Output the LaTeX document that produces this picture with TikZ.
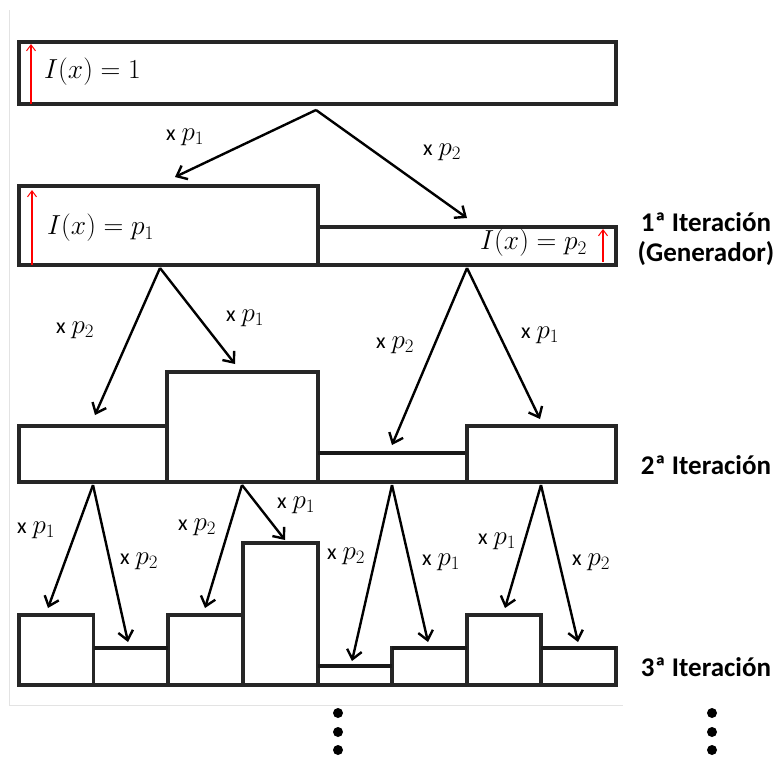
\RequirePackage{fix-cm}
\documentclass[tikz,border=0pt]{standalone}
\usepackage{fontspec}
\setmainfont{Carlito}
\usetikzlibrary{arrows.meta}
\newcommand{\factorof}[1]{{\fontsize{22}{24}\selectfont x}\hspace{6pt}$p_{#1}$}
\begin{document}
\begin{tikzpicture}[x=1pt,y=-1pt,
  bar/.style={draw=black!85,line width=3.4pt,line join=miter},
  thinbar/.style={draw=black!90,line width=4.6pt},
  flow/.style={draw=black,line width=2.4pt,-{Straight Barb[length=9pt,width=15pt,line width=2.4pt]}},
  level/.style={draw=red,line width=1.1pt,-{Straight Barb[length=6pt,width=9pt,line width=1pt]}},
  factor/.style={font=\fontsize{27}{29}\selectfont,inner sep=0pt},
  density/.style={font=\fontsize{27.5}{29}\selectfont,inner sep=0pt,anchor=west},
  stage/.style={font=\fontsize{27}{30}\selectfont\bfseries,inner sep=0pt,align=center},
  dot/.style={fill=black,circle,inner sep=0pt,minimum size=10pt}]
\useasboundingbox (0,0) rectangle (774,758);
\fill[white] (0,0) rectangle (774,758);
% faint frame of the page
\draw[gray!22,line width=1pt] (9,10) -- (9,705) -- (623,705);

% initial measure
\draw[bar] (19,42) rectangle (616,104);
\draw[level] (31,104) -- (31,44);
\node[density] (i0) at (44,72) {$I(x)=1$};

% first iteration (generator)
\draw[bar] (19,186) rectangle (318,265);
\draw[bar] (318,227) rectangle (616,265);
\draw[level] (32,265) -- (32,190);
\draw[level] (603,262) -- (603,229);
\node[density] (i1) at (47,228) {$I(x)=p_1$};
\node[density] (i2) at (480,243) {$I(x)=p_2$};

% second iteration
\draw[bar] (19,426) rectangle (167,482);
\draw[bar] (167,372) rectangle (318,482);
\draw[bar] (318,453) rectangle (467,482);
\draw[thinbar] (318,453) -- (467,453);
\draw[bar] (467,426) rectangle (616,482);

% third iteration
\draw[bar] (19,615) rectangle (93.6,685);
\draw[bar] (93.6,648) rectangle (168,685);
\draw[bar] (168,615) rectangle (243,685);
\draw[bar] (243,543) rectangle (318,685);
\draw[bar] (318,666) rectangle (392,685);
\draw[bar] (392,648) rectangle (467,685);
\draw[bar] (467,615) rectangle (541,685);
\draw[bar] (541,648) rectangle (616,685);
\draw[thinbar] (93.6,648) -- (168,648);
\draw[thinbar] (318,666) -- (392,666);
\draw[thinbar] (392,648) -- (467,648);
\draw[thinbar] (541,648) -- (616,648);
\draw[bar] (19,685) -- (616,685);

% arrow end points
\coordinate (s0) at (316,110);
\coordinate (e0a) at (175,177);
\coordinate (e0b) at (467,218);
\coordinate (s1a) at (160,268);
\coordinate (s1b) at (467,268);
\coordinate (e1a) at (95,415);
\coordinate (e1b) at (235,364);
\coordinate (e1c) at (392,445);
\coordinate (e1d) at (540,419);
\coordinate (s2a) at (93,485);
\coordinate (s2b) at (242,485);
\coordinate (s2c) at (392,485);
\coordinate (s2d) at (541,485);
\coordinate (e2a) at (48,608);
\coordinate (e2b) at (128,642);
\coordinate (e2c) at (205,608);
\coordinate (e2d) at (285,540);
\coordinate (e2e) at (352,661);
\coordinate (e2f) at (428,642);
\coordinate (e2g) at (505,608);
\coordinate (e2h) at (578,642);

\draw[flow] (s0) -- (e0a);
\draw[flow] (s0) -- (e0b);
\draw[flow] (s1a) -- (e1a);
\draw[flow] (s1a) -- (e1b);
\draw[flow] (s1b) -- (e1c);
\draw[flow] (s1b) -- (e1d);
\draw[flow] (s2a) -- (e2a);
\draw[flow] (s2a) -- (e2b);
\draw[flow] (s2b) -- (e2c);
\draw[flow] (s2b) -- (e2d);
\draw[flow] (s2c) -- (e2e);
\draw[flow] (s2c) -- (e2f);
\draw[flow] (s2d) -- (e2g);
\draw[flow] (s2d) -- (e2h);

% multiplying factors
\node[factor] (f0a) at (185,137) {\factorof{1}};
\node[factor] (f0b) at (442,152) {\factorof{2}};
\node[factor] (f1a) at (75,330) {\factorof{2}};
\node[factor] (f1b) at (245,318) {\factorof{1}};
\node[factor] (f1c) at (395,345) {\factorof{2}};
\node[factor] (f1d) at (540,335) {\factorof{1}};
\node[factor] (f2a) at (36,530) {\factorof{1}};
\node[factor] (f2b) at (139,561) {\factorof{2}};
\node[factor] (f2c) at (197,527) {\factorof{2}};
\node[factor] (f2d) at (296,505) {\factorof{1}};
\node[factor] (f2e) at (346,556) {\factorof{2}};
\node[factor] (f2f) at (441,562) {\factorof{1}};
\node[factor] (f2g) at (497,541) {\factorof{1}};
\node[factor] (f2h) at (591,562) {\factorof{2}};

% iteration names
\node[stage] (t1) at (706,239) {1ª Iteración\\(Generador)};
\node[stage] (t2) at (706,465) {2ª Iteración};
\node[stage] (t3) at (706,667) {3ª Iteración};

% continuation marks
\node[dot] (d1) at (338,713) {};
\node[dot] (d2) at (338,732) {};
\node[dot] (d3) at (338,750) {};
\node[dot] (d4) at (712,713) {};
\node[dot] (d5) at (712,732) {};
\node[dot] (d6) at (712,750) {};
\end{tikzpicture}
\end{document}
